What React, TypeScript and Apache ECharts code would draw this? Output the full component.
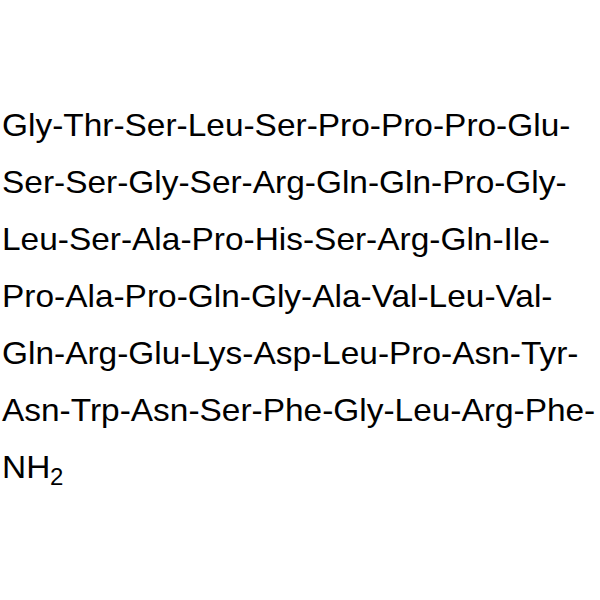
import React, { useEffect, useRef } from 'react';
import * as echarts from 'echarts';

// peptide sequence, one row per printed line
const row1 = ['Gly', 'Thr', 'Ser', 'Leu', 'Ser', 'Pro', 'Pro', 'Pro', 'Glu'];
const row2 = ['Ser', 'Ser', 'Gly', 'Ser', 'Arg', 'Gln', 'Gln', 'Pro', 'Gly'];
const row3 = ['Leu', 'Ser', 'Ala', 'Pro', 'His', 'Ser', 'Arg', 'Gln', 'Ile'];
const row4 = ['Pro', 'Ala', 'Pro', 'Gln', 'Gly', 'Ala', 'Val', 'Leu', 'Val'];
const row5 = ['Gln', 'Arg', 'Glu', 'Lys', 'Asp', 'Leu', 'Pro', 'Asn', 'Tyr'];
const row6 = ['Asn', 'Trp', 'Asn', 'Ser', 'Phe', 'Gly', 'Leu', 'Arg', 'Phe'];
const rows = [row1, row2, row3, row4, row5, row6];
const terminus = 'NH';
const terminusSub = '2';

const FONT = '"Liberation Sans", Arial, sans-serif';

const App = () => {
  const chartRef = useRef<HTMLDivElement>(null);

  useEffect(() => {
    if (!chartRef.current) return;
    document.body.style.margin = '0';

    const chart = echarts.init(chartRef.current, null, { renderer: 'svg' });

    const left = 2;
    const top = 125;
    const pitch = 57;
    const sx = 1.045;

    const lines = rows.map((r, i) => ({
      type: 'text',
      x: left,
      y: top + i * pitch,
      scaleX: sx,
      style: {
        text: r.join('-') + '-',
        fontSize: 32,
        fontFamily: FONT,
        fill: '#000',
        verticalAlign: 'middle'
      }
    }));

    const lastY = top + rows.length * pitch;

    const option = {
      animation: false,
      backgroundColor: '#fff',
      graphic: [
        ...lines,
        {
          type: 'text',
          x: left,
          y: lastY,
          scaleX: sx,
          style: {
            text: terminus,
            fontSize: 32,
            fontFamily: FONT,
            fill: '#000',
            verticalAlign: 'middle'
          }
        },
        {
          type: 'text',
          x: 50,
          y: lastY + 10,
          scaleX: sx,
          style: {
            text: terminusSub,
            fontSize: 23,
            fontFamily: FONT,
            fill: '#000',
            verticalAlign: 'middle'
          }
        }
      ]
    };

    chart.setOption(option);

    return () => {
      chart.dispose();
    };
  }, []);

  return <div ref={chartRef} style={{ width: '600px', height: '600px' }} />;
};

export default App;
